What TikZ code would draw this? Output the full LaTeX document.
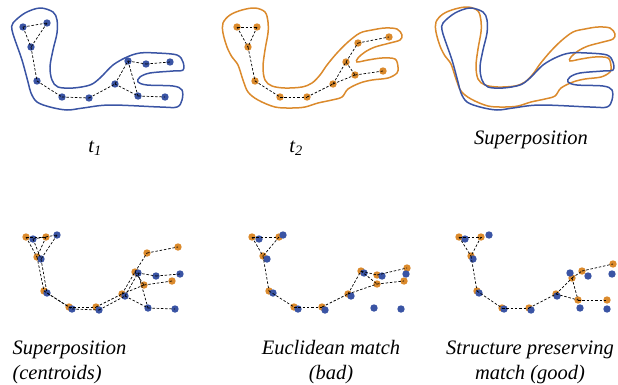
\documentclass[tikz,border=0pt]{standalone}
\usepackage{fontspec}
\setmainfont{Liberation Serif}
\definecolor{shapeblue}{HTML}{3A54A4}
\definecolor{shapeorange}{HTML}{DB8A2C}

% point sets (name/x/y) and tree edges
\def\tonepts{a/23/27,b/47/23,c/31/47,d/37/81,e/62/97,f/89/98,g/115/84,h/128/61,i/146/64,j/170/62,k/138/96,l/165/97}
\def\ttwopts{a/237/27,b/257/27,c/248/47,d/255/81,e/280/97,f/307/97,g/333/84,h/346/62,i/358/43,j/389/37,k/355/75,l/383/71}
\def\euclpts{a/252/237,b/279/237,c/263/256,d/269/291,e/294/307,f/322/307,g/348/294,h/361/271,i/377/275,j/407/268,k/377/284,l/404/281}
\def\structpts{a/459/237,b/481/237,c/471/256,d/477/291,e/502/308,f/529/308,g/556/294,h/572/278,i/582/271,j/613/264,k/578/300,l/607/300}
\def\treeedges{a/b,a/c,b/c,c/d,d/e,e/f,f/g,g/h,h/i,i/j,h/k,g/k,k/l}

\tikzset{
  bluedot/.style={
    circle,
    fill=shapeblue,
    inner sep=0pt,
    minimum size=7.4pt
  },
  orangedot/.style={
    bluedot,
    fill=shapeorange
  },
  link/.style={
    draw=black,
    line width=0.7pt,
    dash pattern=on 2.5pt off 1.8pt
  },
  blueline/.style={
    draw=shapeblue,
    line width=1.5pt
  },
  orangeline/.style={
    draw=shapeorange,
    line width=1.5pt
  },
  caption/.style={
    text=black,
    font=\itshape\fontsize{20.5}{25}\selectfont,
    align=center
  },
  tone outline/.style={
    insert path={plot[smooth cycle, tension=0.55] coordinates {
      (13,23) (25,13) (40,8) (53,12) (57,20) (57,33) (53,50) (50,67)
      (52,80) (58,87) (73,88) (90,85) (100,78) (113,65) (127,57) (140,53)
      (157,53) (177,55) (183,62) (183,70) (173,71) (150,73) (140,77) (138,82)
      (147,85) (173,86) (182,90) (182,100) (177,107) (160,107) (110,105)
      (83,108) (67,110) (50,107) (37,102) (31,93) (28,82) (22,60) (15,40)
      (12,30)}}
  },
  ttwo outline/.style={
    insert path={plot[smooth cycle, tension=0.55] coordinates {
      (223,23) (230,15) (242,10) (255,8) (265,12) (268,22) (268,33) (265,50)
      (263,67) (265,80) (272,86) (285,88) (302,87) (312,83) (320,75) (327,65)
      (337,53) (348,42) (360,33) (372,30) (385,28) (397,29) (402,35) (400,40)
      (390,43) (375,47) (365,52) (358,58) (357,62) (368,60) (382,58) (395,59)
      (398,67) (397,73) (388,78) (372,80) (360,83) (348,89) (342,97) (332,100)
      (318,103) (305,107) (292,108) (275,107) (258,100) (248,92) (243,80)
      (238,65) (232,57) (227,47) (223,33)}}
  }
}

\begin{document}
\begin{tikzpicture}[x=1pt,y=-1pt]
  \useasboundingbox (0,0) rectangle (618,384);

  % t1
  \draw[blueline] [tone outline];
  \foreach \n/\x/\y in \tonepts
    \node[bluedot] (one\n) at (\x,\y) {};
  \foreach \p/\q in \treeedges
    \draw[link] (one\p.center) -- (one\q.center);

  % t2
  \draw[orangeline] [ttwo outline];
  \foreach \n/\x/\y in \ttwopts
    \node[orangedot] (two\n) at (\x,\y) {};
  \foreach \p/\q in \treeedges
    \draw[link] (two\p.center) -- (two\q.center);

  % Superposition of the outlines
  \begin{scope}[shift={(213,-1)}]
    \draw[orangeline] [ttwo outline];
  \end{scope}
  \begin{scope}[shift={(430,0)}]
    \draw[blueline] [tone outline];
  \end{scope}

  % Superposition (centroids)
  \begin{scope}[shift={(-211,210)}]
    \foreach \n/\x/\y in \ttwopts
      \node[orangedot] (centTwo\n) at (\x,\y) {};
  \end{scope}
  \begin{scope}[shift={(10,212)}]
    \foreach \n/\x/\y in \tonepts
      \node[bluedot] (centOne\n) at (\x,\y) {};
  \end{scope}
  \foreach \p/\q in \treeedges {
    \draw[link] (centTwo\p.center) -- (centTwo\q.center);
    \draw[link] (centOne\p.center) -- (centOne\q.center);
  }

  % Euclidean match
  \foreach \n/\x/\y in \euclpts
    \node[orangedot] (euclTwo\n) at (\x,\y) {};
  \begin{scope}[shift={(236,212)}]
    \foreach \n/\x/\y in \tonepts
      \node[bluedot] (euclOne\n) at (\x,\y) {};
  \end{scope}
  \foreach \p/\q in \treeedges
    \draw[link] (euclTwo\p.center) -- (euclTwo\q.center);

  % Structure preserving match
  \foreach \n/\x/\y in \structpts
    \node[orangedot] (structTwo\n) at (\x,\y) {};
  \begin{scope}[shift={(442,212)}]
    \foreach \n/\x/\y in \tonepts
      \node[bluedot] (structOne\n) at (\x,\y) {};
  \end{scope}
  \foreach \p/\q in \treeedges
    \draw[link] (structTwo\p.center) -- (structTwo\q.center);

  % Captions
  \node[caption] (captOne) at (95,148) {t\textsubscript{1}};
  \node[caption] (captTwo) at (296,148) {t\textsubscript{2}};
  \node[caption] (captSup) at (531,140) {Superposition};
  \node[caption, align=left, anchor=west] (captCent) at (9,362)
    {Superposition\\(centroids)};
  \node[caption] (captEucl) at (331,362) {Euclidean match\\(bad)};
  \node[caption] (captStruct) at (530,362) {Structure preserving\\match (good)};
\end{tikzpicture}
\end{document}
